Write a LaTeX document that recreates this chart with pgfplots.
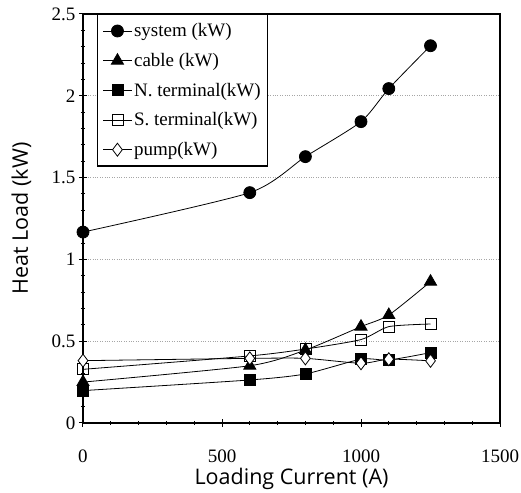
\documentclass[border=0pt]{standalone}
\usepackage{fontspec}
\setmainfont{Liberation Serif}
\newfontfamily\labfont{Open Sans}
\usepackage{pgfplots}
\pgfplotsset{compat=1.18}
\begin{document}
\begin{tikzpicture}
\begin{axis}[
  scale only axis,
  width=417pt, height=409pt,
  xmin=0, xmax=1500, ymin=0, ymax=2.5,
  xtick={0,500,1000,1500},
  ytick={0,0.5,1,1.5,2,2.5},
  yticklabels={0,0.5,1,1.5,2,2.5},
  minor x tick num=4,
  minor y tick num=4,
  axis line style={line width=1.3pt},
  tick style={black, line width=1pt},
  tick align=center,
  major tick length=8pt,
  minor tick length=4pt,
  xtick pos=bottom, ytick pos=left,
  ymajorgrids,
  major grid style={gray!70, dotted, line width=0.6pt},
  /pgf/number format/assume math mode=true,
  /pgf/number format/1000 sep={},
  ticklabel style={font=\fontsize{19}{22}\selectfont},
  xticklabel style={anchor=center, yshift=-29pt},
  yticklabel style={anchor=east, xshift=0pt},
  xlabel={\labfont Loading Current (A)},
  ylabel={\labfont Heat Load (kW)},
  label style={font=\fontsize{21.5}{24}\selectfont},
  xlabel style={at={(axis description cs:0.5,-0.136)}, anchor=center},
  ylabel style={at={(axis description cs:-0.148,0.5)}, anchor=center},
  legend style={at={(0.034,1)}, anchor=north west, font=\fontsize{19}{22}\selectfont,
    draw=black, line width=1.3pt, row sep=11pt, inner xsep=5pt, inner ysep=7pt,
    cells={anchor=west}},
  legend image code/.code={
    \draw[mark repeat=2,mark phase=2,#1] plot coordinates {(0cm,0cm)(0.5cm,0cm)(1cm,0cm)};},
  every axis plot/.append style={black, line width=0.8pt, smooth, tension=0.4},
]
\addplot[mark=*, mark size=6pt] coordinates {(0,1.167)(600,1.408)(800,1.628)(1000,1.842)(1100,2.044)(1250,2.306)};
\addlegendentry{system (kW)}
\addplot[mark=triangle*, mark size=7pt] coordinates {(0,0.25)(600,0.35)(800,0.446)(1000,0.589)(1100,0.66)(1250,0.864)};
\addlegendentry{cable (kW)}
\addplot[mark=square*, mark size=5.5pt] coordinates {(0,0.198)(600,0.263)(800,0.30)(1000,0.39)(1100,0.385)(1250,0.43)};
\addlegendentry{N. terminal(kW)}
\addplot[mark=square, mark size=5.5pt, mark options={fill=white, solid}] coordinates {(0,0.328)(600,0.41)(800,0.452)(1000,0.51)(1100,0.589)(1250,0.605)};
\addlegendentry{S. terminal(kW)}
\addplot[mark=diamond*, mark size=6.5pt, mark options={fill=white}] coordinates {(0,0.381)(600,0.395)(800,0.395)(1000,0.365)(1100,0.39)(1250,0.38)};
\addlegendentry{pump(kW)}
\end{axis}
\pgfresetboundingbox
\path ([shift={(-83pt,-70pt)}]current axis.south west) rectangle ([shift={(21pt,14pt)}]current axis.north east);
\end{tikzpicture}
\end{document}
